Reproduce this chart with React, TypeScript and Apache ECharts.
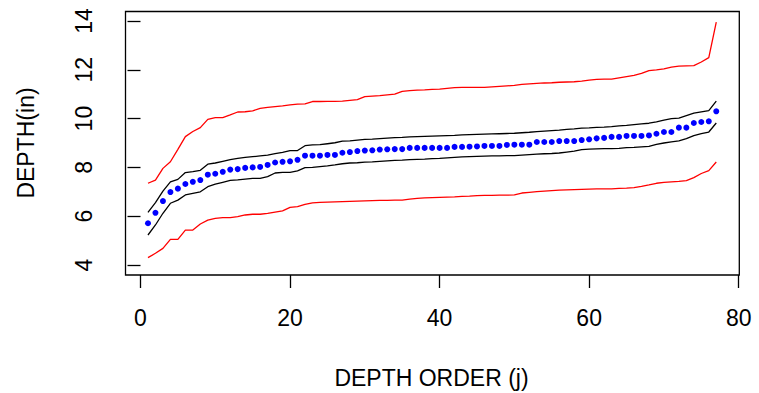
import React, { useEffect, useRef } from "react";
import * as echarts from "echarts";

const depthMedian = [5.71,6.14,6.62,6.99,7.13,7.32,7.41,7.48,7.70,7.74,
 7.82,7.91,7.93,7.98,8.00,8.02,8.10,8.20,8.23,8.25,
 8.31,8.48,8.48,8.48,8.51,8.51,8.60,8.63,8.67,8.69,
 8.70,8.73,8.74,8.75,8.75,8.80,8.80,8.80,8.80,8.80,
 8.80,8.84,8.84,8.85,8.86,8.88,8.88,8.88,8.92,8.93,
 8.93,8.93,9.04,9.04,9.04,9.08,9.08,9.08,9.12,9.15,
 9.19,9.21,9.25,9.25,9.29,9.29,9.29,9.31,9.38,9.45,
 9.45,9.63,9.63,9.82,9.86,9.89,10.30];

const innerUpper = [6.16,6.56,7.03,7.41,7.51,7.79,7.83,7.88,8.13,8.18,
 8.25,8.32,8.37,8.41,8.44,8.47,8.50,8.56,8.62,8.69,
 8.69,8.89,8.92,8.93,8.97,9.01,9.08,9.09,9.12,9.15,
 9.16,9.18,9.20,9.22,9.23,9.25,9.26,9.27,9.28,9.29,
 9.30,9.31,9.33,9.34,9.35,9.36,9.37,9.38,9.39,9.40,
 9.42,9.44,9.47,9.49,9.51,9.53,9.56,9.58,9.61,9.62,
 9.64,9.65,9.67,9.70,9.72,9.75,9.78,9.81,9.87,9.94,
 10.00,10.02,10.12,10.22,10.28,10.33,10.72];

const innerLower = [5.23,5.64,6.12,6.53,6.66,6.87,6.94,7.00,7.21,7.31,
 7.39,7.47,7.49,7.52,7.55,7.55,7.62,7.77,7.80,7.80,
 7.86,7.99,8.00,8.03,8.06,8.10,8.15,8.18,8.19,8.22,
 8.23,8.25,8.27,8.29,8.30,8.32,8.33,8.34,8.36,8.37,
 8.39,8.41,8.43,8.44,8.45,8.46,8.47,8.47,8.48,8.48,
 8.50,8.52,8.54,8.56,8.57,8.59,8.63,8.67,8.73,8.75,
 8.76,8.77,8.77,8.78,8.81,8.82,8.84,8.86,8.94,9.00,
 9.05,9.09,9.18,9.30,9.38,9.45,9.82];

const outerUpper = [7.35,7.48,7.96,8.23,8.74,9.26,9.47,9.63,9.97,10.04,
 10.04,10.15,10.27,10.28,10.32,10.42,10.46,10.49,10.52,10.56,
 10.59,10.60,10.70,10.70,10.71,10.71,10.72,10.75,10.78,10.90,
 10.92,10.94,10.97,11.00,11.12,11.15,11.17,11.18,11.20,11.21,
 11.24,11.27,11.28,11.28,11.28,11.28,11.30,11.32,11.34,11.36,
 11.40,11.42,11.44,11.46,11.47,11.49,11.50,11.51,11.54,11.58,
 11.61,11.62,11.62,11.67,11.72,11.77,11.85,11.97,12.00,12.04,
 12.11,12.15,12.16,12.17,12.32,12.50,13.95];

const outerLower = [4.30,4.48,4.68,5.05,5.05,5.43,5.43,5.68,5.84,5.91,
 5.94,5.94,5.98,6.05,6.08,6.08,6.12,6.17,6.22,6.36,
 6.39,6.48,6.55,6.57,6.58,6.59,6.60,6.61,6.62,6.63,
 6.64,6.65,6.65,6.66,6.66,6.70,6.73,6.75,6.76,6.77,
 6.78,6.79,6.81,6.82,6.84,6.85,6.85,6.86,6.86,6.87,
 6.95,6.98,7.01,7.03,7.05,7.07,7.08,7.09,7.10,7.11,
 7.12,7.12,7.12,7.14,7.15,7.17,7.22,7.28,7.35,7.39,
 7.41,7.43,7.46,7.58,7.75,7.87,8.22];

const xTicks = [0, 20, 40, 60, 80];
const yTicks = [4, 6, 8, 10, 12, 14];

const FONT = "'Liberation Sans', Arial, Helvetica, sans-serif";

const toPairs = (arr: number[]) => arr.map((v, i) => [i + 1, v]);

export default function App() {
  const ref = useRef<HTMLDivElement>(null);
  useEffect(() => {
    if (!ref.current) return;
    const chart = echarts.init(ref.current, null, { renderer: "svg" });
    const lineStyleRed = { color: "#FF0000", width: 1.3 };
    const lineStyleBlack = { color: "#000000", width: 1.3 };
    chart.setOption({
      animation: false,
      backgroundColor: "#FFFFFF",
      grid: { left: 140.5, right: 20.3, top: 21, bottom: 128, containLabel: false },
      xAxis: {
        type: "value",
        min: xTicks[0],
        max: xTicks[xTicks.length - 1],
        interval: 20,
        offset: 10,
        axisLine: { show: false },
        axisTick: { show: true, length: 13, lineStyle: { color: "#000", width: 1.3 } },
        splitLine: { show: false },
        axisLabel: { color: "#000", fontSize: 23, fontFamily: FONT, margin: 31 },
      },
      yAxis: {
        type: "value",
        min: yTicks[0],
        max: yTicks[yTicks.length - 1],
        interval: 2,
        offset: 15,
        axisLine: { show: false },
        axisTick: { show: true, length: 13, lineStyle: { color: "#000", width: 1.3 } },
        splitLine: { show: false },
        axisLabel: { color: "#000", fontSize: 23, fontFamily: FONT, margin: 30, rotate: 90 },
      },
      graphic: [
        {
          type: "rect",
          shape: { x: 125.5, y: 11.5, width: 613.8, height: 263.5 },
          style: { fill: "none", stroke: "#000", lineWidth: 1.3 },
          silent: true,
        },
        {
          type: "text",
          x: 431.5,
          y: 378,
          style: {
            text: "DEPTH ORDER (j)",
            fontSize: 23,
            fontFamily: FONT,
            fill: "#000",
            textAlign: "center",
            textVerticalAlign: "middle",
          },
        },
        {
          type: "text",
          x: 26,
          y: 143,
          rotation: Math.PI / 2,
          style: {
            text: "DEPTH(in)",
            fontSize: 23,
            fontFamily: FONT,
            fill: "#000",
            textAlign: "center",
            textVerticalAlign: "middle",
          },
        },
      ],
      series: [
        { type: "line", data: toPairs(outerUpper), showSymbol: false, lineStyle: lineStyleRed, clip: false },
        { type: "line", data: toPairs(outerLower), showSymbol: false, lineStyle: lineStyleRed, clip: false },
        { type: "line", data: toPairs(innerUpper), showSymbol: false, lineStyle: lineStyleBlack, clip: false },
        { type: "line", data: toPairs(innerLower), showSymbol: false, lineStyle: lineStyleBlack, clip: false },
        {
          type: "scatter",
          data: toPairs(depthMedian),
          symbol: "circle",
          symbolSize: 6,
          itemStyle: { color: "#0000FF", opacity: 1 },
          clip: false,
        },
      ],
    });
    return () => chart.dispose();
  }, []);
  return (
    <div
      ref={ref}
      style={{ position: "fixed", left: 0, top: 0, width: 759, height: 393, background: "#fff" }}
    />
  );
}
